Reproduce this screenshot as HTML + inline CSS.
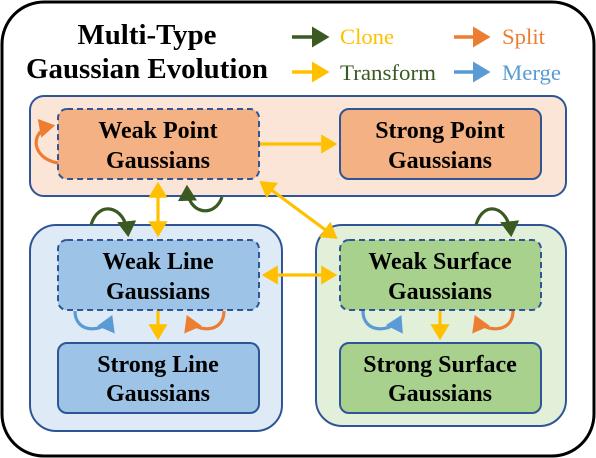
<!DOCTYPE html>
<html><head><meta charset="utf-8"><style>
html,body{margin:0;padding:0;background:#fff;}
svg{display:block;}
text{font-family:"Liberation Serif",serif;}
.t{font-weight:bold;font-size:24px;fill:#000;text-anchor:middle;}
</style></head><body>
<svg width="596" height="458" viewBox="0 0 596 458" xmlns="http://www.w3.org/2000/svg">
<defs>
<marker id="mg" markerWidth="6" markerHeight="6" refX="4" refY="3" orient="auto" markerUnits="strokeWidth"><path d="M0,0 L5,3 L0,6 Z" fill="#3a5a22"/></marker>
<marker id="mo" markerWidth="6" markerHeight="6" refX="4" refY="3" orient="auto" markerUnits="strokeWidth"><path d="M0,0 L5,3 L0,6 Z" fill="#ed7d31"/></marker>
<marker id="my" markerWidth="6" markerHeight="6" refX="4" refY="3" orient="auto" markerUnits="strokeWidth"><path d="M0,0 L5,3 L0,6 Z" fill="#ffc000"/></marker>
<marker id="mys" markerWidth="6" markerHeight="6" refX="1" refY="3" orient="auto" markerUnits="strokeWidth"><path d="M5,0 L0,3 L5,6 Z" fill="#ffc000"/></marker>
<marker id="mb" markerWidth="6" markerHeight="6" refX="4" refY="3" orient="auto" markerUnits="strokeWidth"><path d="M0,0 L5,3 L0,6 Z" fill="#5b9bd5"/></marker>
</defs>
<rect x="2" y="2" width="592" height="454" rx="42" fill="#fff" stroke="#000" stroke-width="3"/>
<text x="147" y="44" text-anchor="middle" font-weight="bold" font-size="28" textLength="139" lengthAdjust="spacingAndGlyphs">Multi-Type</text>
<text x="147" y="78" text-anchor="middle" font-weight="bold" font-size="28" textLength="242" lengthAdjust="spacingAndGlyphs">Gaussian Evolution</text>
<g stroke-width="3.5" fill="none">
<line x1="292" y1="37" x2="326" y2="37" stroke="#3a5a22" marker-end="url(#mg)"/>
<line x1="454" y1="37" x2="487" y2="37" stroke="#ed7d31" marker-end="url(#mo)"/>
<line x1="292" y1="72" x2="326" y2="72" stroke="#ffc000" marker-end="url(#my)"/>
<line x1="454" y1="72" x2="487" y2="72" stroke="#5b9bd5" marker-end="url(#mb)"/>
</g>
<text x="340" y="44" font-size="22" fill="#ffc000" textLength="54" lengthAdjust="spacingAndGlyphs">Clone</text>
<text x="502" y="44" font-size="22" fill="#ed7d31" textLength="43" lengthAdjust="spacingAndGlyphs">Split</text>
<text x="340" y="80" font-size="22" fill="#3a5a22" textLength="96" lengthAdjust="spacingAndGlyphs">Transform</text>
<text x="502" y="80" font-size="22" fill="#5b9bd5" textLength="59" lengthAdjust="spacingAndGlyphs">Merge</text>

<rect x="30" y="96" width="536" height="100" rx="14" fill="#fbe5d6" stroke="#2f5597" stroke-width="2"/>
<rect x="30" y="225" width="252" height="206" rx="26" fill="#deebf7" stroke="#2f5597" stroke-width="2"/>
<rect x="316" y="225" width="250" height="201" rx="26" fill="#e2f0d9" stroke="#2f5597" stroke-width="2"/>

<rect x="58" y="109" width="201" height="70" rx="9" fill="#f4b183" stroke="#2f5597" stroke-width="2" stroke-dasharray="6,4"/>
<rect x="340" y="109" width="201" height="70" rx="9" fill="#f4b183" stroke="#2f5597" stroke-width="2"/>
<rect x="58" y="240" width="201" height="70" rx="9" fill="#9dc3e6" stroke="#2f5597" stroke-width="2" stroke-dasharray="6,4"/>
<rect x="58" y="343" width="201" height="70" rx="9" fill="#9dc3e6" stroke="#2f5597" stroke-width="2"/>
<rect x="340" y="240" width="201" height="70" rx="9" fill="#a9d18e" stroke="#2f5597" stroke-width="2" stroke-dasharray="6,4"/>
<rect x="340" y="343" width="201" height="70" rx="9" fill="#a9d18e" stroke="#2f5597" stroke-width="2"/>

<text class="t" x="158" y="138">Weak Point</text><text class="t" x="158" y="168">Gaussians</text>
<text class="t" x="440" y="138">Strong Point</text><text class="t" x="440" y="168">Gaussians</text>
<text class="t" x="158" y="269">Weak Line</text><text class="t" x="158" y="299">Gaussians</text>
<text class="t" x="158" y="372">Strong Line</text><text class="t" x="158" y="401">Gaussians</text>
<text class="t" x="440" y="269">Weak Surface</text><text class="t" x="440" y="299">Gaussians</text>
<text class="t" x="440" y="372">Strong Surface</text><text class="t" x="440" y="401">Gaussians</text>

<g stroke-width="3.2" fill="none">
<line x1="260" y1="144" x2="334" y2="144" stroke="#ffc000" marker-end="url(#my)"/>
<line x1="158" y1="185" x2="158" y2="234" stroke="#ffc000" marker-start="url(#mys)" marker-end="url(#my)"/>
<line x1="262" y1="183" x2="335" y2="237" stroke="#ffc000" marker-start="url(#mys)" marker-end="url(#my)"/>
<line x1="265" y1="275" x2="334" y2="275" stroke="#ffc000" marker-start="url(#mys)" marker-end="url(#my)"/>
<line x1="158" y1="311" x2="158" y2="337" stroke="#ffc000" marker-end="url(#my)"/>
<line x1="440" y1="311" x2="440" y2="337" stroke="#ffc000" marker-end="url(#my)"/>
<path d="M58,163 C30,158 30,130 52,126" stroke="#ed7d31" marker-end="url(#mo)"/>
<path d="M222,197 C215,218 188,215 187,188" stroke="#3a5a22" marker-end="url(#mg)"/>
<path d="M91,225 C98,200 125,205 128,234" stroke="#3a5a22" marker-end="url(#mg)"/>
<path d="M476,225 C483,200 508,205 511,234" stroke="#3a5a22" marker-end="url(#mg)"/>
<path d="M75,311 C75,335 105,332 111,318" stroke="#5b9bd5" marker-end="url(#mb)"/>
<path d="M224,311 C224,335 194,332 188,318" stroke="#ed7d31" marker-end="url(#mo)"/>
<path d="M363,311 C363,335 393,332 400,318" stroke="#5b9bd5" marker-end="url(#mb)"/>
<path d="M513,311 C513,335 482,332 476,318" stroke="#ed7d31" marker-end="url(#mo)"/>
</g>
</svg>
</body></html>
